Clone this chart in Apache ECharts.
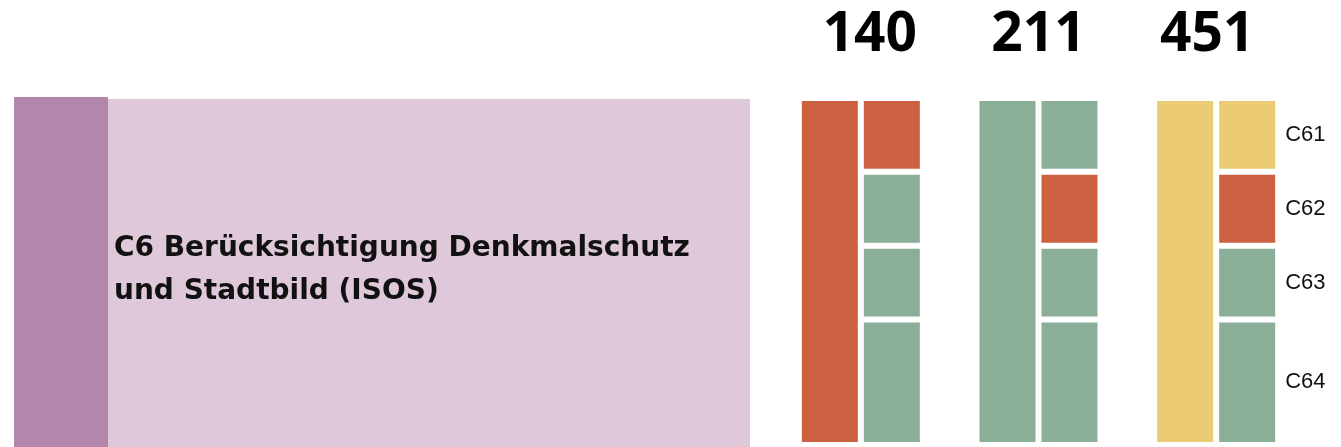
<!DOCTYPE html>
<html>
<head>
<meta charset="utf-8">
<script src="https://cdn.jsdelivr.net/npm/echarts@6/dist/echarts.min.js"></script>
<style>
  html, body { margin: 0; padding: 0; background: #fff; }
  #chart { width: 1341px; height: 447px; }
</style>
</head>
<body>
<div id="chart"></div>
<script>
// data
const groups = ['140', '211', '451']
const indicators = ['C61', 'C62', 'C63', 'C64']
const weights = [1, 1, 1, 1.7]
const overallStatus = ['red', 'green', 'yellow']
const indicatorStatus = [
  ['red', 'green', 'green', 'green'],
  ['green', 'red', 'green', 'green'],
  ['yellow', 'red', 'green', 'green'],
]
const themeTitle = 'C6 Berücksichtigung Denkmalschutz\nund Stadtbild (ISOS)'

const statusColor = { red: '#CB6140', green: '#8BAE98', yellow: '#ECCB75' }
const total = weights.reduce((a, b) => a + b, 0)
const barW = 62
// border is drawn inside the bar, 3px each side -> 6px white gap between cells
const gapStyle = { borderColor: '#fff', borderWidth: 3 }

const chart = echarts.init(document.getElementById('chart'))

const series = [
  {
    name: 'Gesamt',
    type: 'bar',
    barWidth: barW,
    barGap: 0,
    silent: true,
    data: groups.map((g, i) => ({
      value: total,
      itemStyle: { color: statusColor[overallStatus[i]], ...gapStyle },
    })),
  },
  ...indicators.map((name, k) => ({
    name,
    type: 'bar',
    stack: 'ind',
    barWidth: barW,
    barGap: 0,
    silent: true,
    data: groups.map((g, i) => ({
      value: weights[k],
      itemStyle: { color: statusColor[indicatorStatus[i][k]], ...gapStyle },
      label: {
        show: i === groups.length - 1,
        position: 'right',
        distance: 7,
        formatter: name,
        color: '#111',
        fontSize: 22,
        fontFamily: 'Liberation Sans, Arial, sans-serif',
      },
    })),
  })),
]

chart.setOption({
  backgroundColor: '#fff',
  animation: false,
  grid: { left: 772, right: 36, top: 98, bottom: 2 },
  xAxis: {
    type: 'category',
    position: 'top',
    data: groups,
    axisLine: { show: false },
    axisTick: { show: false },
    axisLabel: {
      margin: 35,
      color: '#000',
      formatter: (v, i) => (i === 0 ? '{a|' + v + '}' : i === 2 ? '{c|' + v + '}' : '{b|' + v + '}'),
      rich: {
        a: { fontSize: 55, fontWeight: 'bold', fontFamily: 'Open Sans', color: '#000', padding: [0, 0, 0, 18] },
        b: { fontSize: 55, fontWeight: 'bold', fontFamily: 'Open Sans', color: '#000' },
        c: { fontSize: 55, fontWeight: 'bold', fontFamily: 'Open Sans', color: '#000', padding: [0, 18, 0, 0] },
      },
    },
  },
  yAxis: {
    type: 'value',
    inverse: true,
    min: 0,
    max: total,
    show: false,
  },
  graphic: [
    { type: 'rect', shape: { x: 108, y: 99, width: 642, height: 348 }, style: { fill: '#DEC8D9' }, silent: true },
    { type: 'rect', shape: { x: 14, y: 97, width: 94, height: 350 }, style: { fill: '#B387AB' }, silent: true },
    {
      type: 'text',
      x: 114,
      y: 270,
      silent: true,
      style: {
        text: themeTitle,
        fontFamily: 'DejaVu Sans',
        fontWeight: 'bold',
        fontSize: 28,
        lineHeight: 43,
        fill: '#111',
        verticalAlign: 'middle',
        align: 'left',
      },
    },
  ],
  series,
})
</script>
</body>
</html>
